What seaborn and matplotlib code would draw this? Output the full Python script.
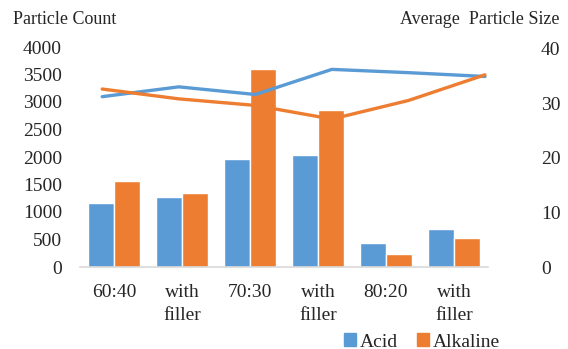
import matplotlib
matplotlib.use("Agg")
import matplotlib.pyplot as plt
from matplotlib.patches import Patch
import seaborn as sns
import pandas as pd

# Datos
categories = ['60:40', '60:40 filler', '70:30', '70:30 filler', '80:20', '80:20 filler']
tick_labels = ['60:40', 'with\nfiller', '70:30', 'with\nfiller', '80:20', 'with\nfiller']
acid_count = [1170, 1270, 1970, 2030, 440, 700]
alkaline_count = [1570, 1350, 3600, 2860, 240, 520]
acid_size = [31.2, 33.0, 31.6, 36.2, 35.6, 34.9]
alkaline_size = [32.6, 30.8, 29.6, 27.1, 30.5, 35.2]

colores = {'Acid': '#5B9BD5', 'Alkaline': '#ED7D31'}

df_count = pd.DataFrame({
    'sample': categories * 2,
    'solution': ['Acid'] * 6 + ['Alkaline'] * 6,
    'count': acid_count + alkaline_count,
})
df_size = pd.DataFrame({
    'sample': categories * 2,
    'solution': ['Acid'] * 6 + ['Alkaline'] * 6,
    'size': acid_size + alkaline_size,
})

sns.set_style('white')
plt.rcParams['font.family'] = ['Liberation Serif', 'DejaVu Serif']

fig = plt.figure(figsize=(5.68, 3.49), dpi=100)
rect = [80 / 568, 1 - 267 / 349, 408 / 568, 220 / 349]
ax = fig.add_axes(rect)

# Barras
sns.barplot(data=df_count, x='sample', y='count', hue='solution',
            palette=colores, width=0.76, gap=0, saturation=1,
            legend=False, ax=ax)
ax.set_ylim(0, 4000)
ax.set_xlim(-0.5, 5.5)
ax.set_yticks(range(0, 4001, 500))
ax.set_xticks(range(6))
ax.set_xticklabels(tick_labels, linespacing=1.5)
ax.set_xlabel('')
ax.set_ylabel('')
ax.tick_params(axis='y', length=0, pad=13, labelsize=14)
ax.tick_params(axis='x', length=0, pad=12, labelsize=14)
for s in ['top', 'left', 'right']:
    ax.spines[s].set_visible(False)
ax.spines['bottom'].set_color('#d9d9d9')
ax.spines['bottom'].set_linewidth(1.2)

# Lineas (eje secundario)
ax2 = fig.add_axes(rect, frameon=False)
sns.lineplot(data=df_size, x='sample', y='size', hue='solution',
             palette=colores, linewidth=2.4, legend=False, ax=ax2, sort=False)
ax2.set_xlim(-0.29, 5.04)
ax2.set_ylim(0, 40.3)
ax2.set_yticks(range(0, 41, 10))
ax2.yaxis.tick_right()
ax2.set_xticks([])
ax2.set_xlabel('')
ax2.set_ylabel('')
ax2.tick_params(axis='y', length=0, pad=38, labelsize=14)

# Titulos de ejes
fig.text(13 / 568, 1 - 20 / 349, 'Particle Count', fontsize=13, va='center', ha='left')
fig.text(560 / 568, 1 - 20 / 349, 'Average  Particle Size', fontsize=13, va='center', ha='right')

# Leyenda
handles = [Patch(color=colores['Acid'], label='Acid'),
           Patch(color=colores['Alkaline'], label='Alkaline')]
fig.legend(handles=handles, loc='center', bbox_to_anchor=(422 / 568, 1 - 342 / 349),
           ncol=2, frameon=False, fontsize=14, handlelength=0.6, handleheight=0.6,
           handletextpad=0.2, columnspacing=1.0, borderpad=0)

fig.savefig('out.png', dpi=100)
